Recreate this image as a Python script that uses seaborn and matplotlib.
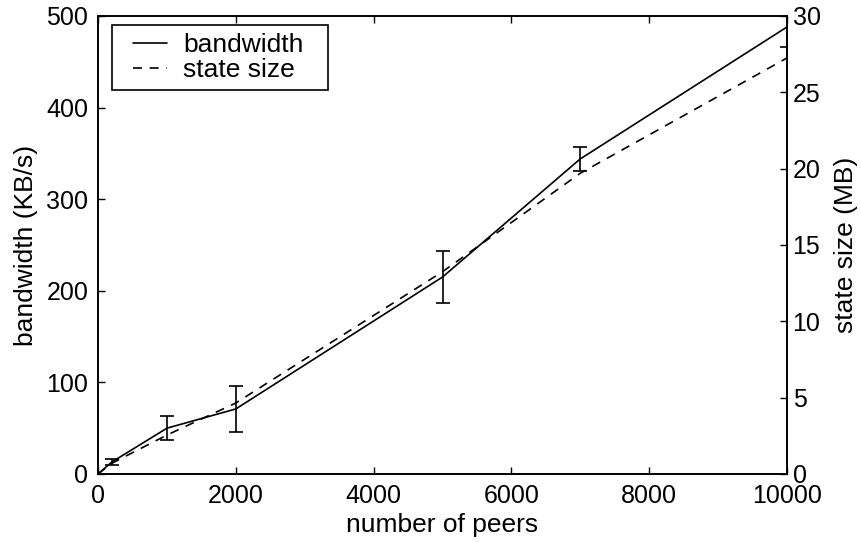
import matplotlib
matplotlib.use("Agg")
import matplotlib.pyplot as plt
from matplotlib.legend_handler import HandlerLine2D
import seaborn as sns
import pandas as pd

# Measurements: peers vs. per-peer bandwidth and state size
peers = [0, 200, 1000, 2000, 5000, 7000, 10000]
bandwidth = [0, 13, 50, 71, 215, 344, 488]          # KB/s
bandwidth_err = [0, 3, 13, 25, 28.5, 13.5, 22]     # KB/s
state_size = [0, 0.7, 2.55, 4.65, 13.25, 19.7, 27.25]  # MB

df = pd.DataFrame({"peers": peers, "bandwidth": bandwidth,
                   "err": bandwidth_err, "state": state_size})

sns.set_style("ticks")
plt.rcParams["font.family"] = ["Liberation Sans", "DejaVu Sans"]
plt.rcParams.update({
    "xtick.direction": "in", "ytick.direction": "in",
    "text.color": "black", "axes.labelcolor": "black",
    "xtick.color": "black", "ytick.color": "black",
    "axes.edgecolor": "black",
})

fig = plt.figure(figsize=(8.62, 5.42), dpi=100)
ax = fig.add_axes([0.1137, 0.1255, 0.7993, 0.845])
ax2 = ax.twinx()

dash = (0, (5.4, 4.6))
sns.lineplot(data=df, x="peers", y="bandwidth", ax=ax, color="black",
             linewidth=1.2, legend=False)
ax.errorbar(df["peers"], df["bandwidth"], yerr=df["err"], fmt="none",
            ecolor="black", elinewidth=1.2, capsize=5, capthick=1.2)
sns.lineplot(data=df, x="peers", y="state", ax=ax2, color="black",
             linewidth=1.2, linestyle=dash, legend=False)

ax.set_xlim(0, 10000)
ax.set_ylim(0, 500)
ax2.set_ylim(0, 30)
ax.set_xticks([0, 2000, 4000, 6000, 8000, 10000])
ax.set_yticks([0, 100, 200, 300, 400, 500])
ax2.set_yticks([0, 5, 10, 15, 20, 25, 30])

fs = 18
ax.tick_params(axis="x", which="both", top=True, length=5, width=1,
               labelsize=fs, pad=7)
ax.tick_params(axis="y", which="both", left=True, right=False, length=5,
               width=1, labelsize=fs, pad=7)
ax2.tick_params(axis="y", length=5, width=1, labelsize=fs, pad=4)

lfs = 19
ax.set_xlabel("number of peers", fontsize=lfs, labelpad=4)
ax.set_ylabel("bandwidth (KB/s)", fontsize=lfs, labelpad=6)
ax2.set_ylabel("state size (MB)", fontsize=lfs, labelpad=9.5)

for a in (ax, ax2):
    for s in a.spines.values():
        s.set_visible(True)
        s.set_linewidth(1.2)
        s.set_color("black")

line_bw = ax.get_lines()[0]
line_st = ax2.get_lines()[0]
leg = ax.legend([line_bw, line_st], ["bandwidth", "state size"],
                loc="upper left", bbox_to_anchor=(0.0203, 0.5, 0.3135, 0.48),
                mode="expand", fontsize=19, frameon=True, fancybox=False,
                edgecolor="black", framealpha=1, handlelength=1.8,
                borderpad=0.3, labelspacing=0.05, handletextpad=0.6,
                borderaxespad=0,
                handler_map={line_bw: HandlerLine2D(xpad=0.5),
                             line_st: HandlerLine2D(xpad=0.5)})
leg.get_frame().set_linewidth(1.2)

fig.savefig("out.png", dpi=100)
